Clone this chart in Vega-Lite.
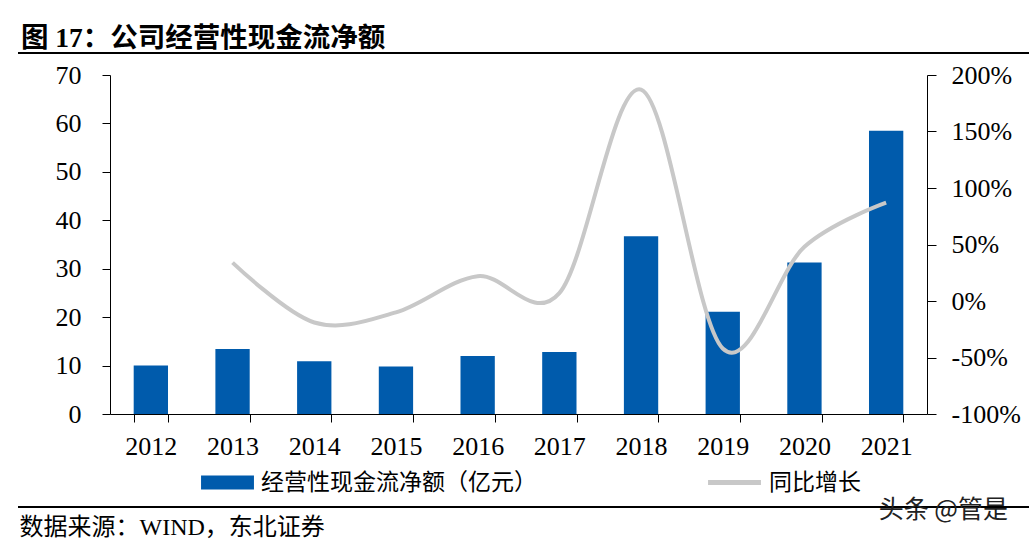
{
  "$schema": "https://vega.github.io/schema/vega-lite/v6.json",
  "padding": {"left": 18, "top": 23, "right": 0, "bottom": 0},
  "background": "white",
  "config": {
    "view": {"stroke": null},
    "font": "Liberation Serif",
    "axis": {"labelFont": "Liberation Serif", "labelColor": "#000", "domainColor": "#000", "tickColor": "#000", "grid": false, "title": null}
  },
  "vconcat": [
    {
      "width": 1011,
      "height": 0.01,
      "view": {"stroke": "#000", "strokeWidth": 2},
      "title": {"text": "图 17：公司经营性现金流净额", "anchor": "start", "dx": 2, "font": "Liberation Serif, Noto Sans CJK SC", "fontSize": 27.5, "fontWeight": "bold", "color": "#000", "offset": -5},
      "data": {"values": [{}]},
      "mark": {"type": "text"},
      "encoding": {"text": {"value": ""}}
    },
    {
      "hconcat": [
        {
          "width": 31,
          "height": 1,
          "view": {"fill": "white", "stroke": null},
          "data": {"values": [{}]},
          "mark": {"type": "text"},
          "encoding": {"text": {"value": ""}}
        },
        {
          "width": 817,
          "height": 339,
          "data": {"values": [
            {"year": "2012", "cash": 10.0, "growth": null},
            {"year": "2013", "cash": 13.4, "growth": 34},
            {"year": "2014", "cash": 10.9, "growth": -19},
            {"year": "2015", "cash": 9.8, "growth": -10},
            {"year": "2016", "cash": 12.0, "growth": 22},
            {"year": "2017", "cash": 12.8, "growth": 7},
            {"year": "2018", "cash": 36.7, "growth": 187},
            {"year": "2019", "cash": 21.1, "growth": -42},
            {"year": "2020", "cash": 31.3, "growth": 48},
            {"year": "2021", "cash": 58.5, "growth": 87}
          ]},
          "layer": [
            {
              "mark": {"type": "bar"},
              "encoding": {
                "x": {"field": "year", "type": "ordinal", "scale": {"paddingInner": 0.58, "paddingOuter": 0.29},
                  "axis": {"labelAngle": 0, "labelFontSize": 26, "labelPadding": 11, "tickBand": "extent", "tickSize": 8}},
                "y": {"field": "cash", "type": "quantitative", "scale": {"domain": [0, 70], "nice": false},
                  "axis": {"values": [0, 10, 20, 30, 40, 50, 60, 70], "labelFontSize": 26, "labelPadding": 21, "tickSize": 8, "minExtent": 60}},
                "color": {"datum": "经营性现金流净额（亿元）", "scale": {"range": ["#005BAC"]},
                  "legend": {"orient": "none", "legendX": 106, "legendY": 396, "title": null, "symbolType": "M-5,-1.32H5V1.32H-5Z", "symbolSize": 112, "symbolStrokeWidth": 0, "symbolOpacity": 1, "labelFont": "Noto Sans CJK SC", "labelFontSize": 23, "labelColor": "#000", "labelOffset": 22, "labelLimit": 400}}
              }
            },
            {
              "mark": {"type": "line", "interpolate": "cardinal", "strokeWidth": 4},
              "encoding": {
                "x": {"field": "year", "type": "ordinal"},
                "y": {"field": "growth", "type": "quantitative", "scale": {"domain": [-100, 200], "nice": false},
                  "axis": {"orient": "right", "values": [-100, -50, 0, 50, 100, 150, 200], "labelExpr": "datum.value + '%'", "labelFontSize": 26, "labelPadding": 15, "tickSize": 9}},
                "stroke": {"datum": "同比增长", "scale": {"range": ["#C8C8C8"]},
                  "legend": {"orient": "none", "legendX": 613, "legendY": 396, "title": null, "symbolType": "M-5,0H5", "symbolSize": 112, "symbolStrokeWidth": 5, "labelFont": "Noto Sans CJK SC", "labelFontSize": 23, "labelColor": "#000", "labelOffset": 23}}
              }
            }
          ],
          "resolve": {"scale": {"y": "independent", "color": "independent", "stroke": "independent"}}
        }
      ],
      "spacing": 0
    },
    {
      "width": 1011,
      "height": 0.01,
      "view": {"stroke": "#000", "strokeWidth": 2},
      "title": {"text": "头条 @管是", "orient": "top", "anchor": "end", "dx": -22, "offset": -22, "font": "Noto Sans CJK SC", "fontSize": 25, "fontWeight": "normal", "color": "#222"},
      "data": {"values": [{}]},
      "mark": {"type": "text"},
      "encoding": {
        "text": {"value": ""},
        "x": {"datum": 0, "type": "quantitative", "scale": {"domain": [0, 1]},
          "axis": {"orient": "bottom", "title": "数据来源：WIND，东北证券", "titleAnchor": "start", "titleAlign": "left", "titleBaseline": "top", "titlePadding": 8, "titleFont": "Liberation Serif, Noto Sans CJK SC", "titleFontSize": 24, "titleFontWeight": "normal", "titleColor": "#000", "domain": false, "ticks": false, "labels": false, "grid": false}}
      }
    }
  ],
  "spacing": 2
}
